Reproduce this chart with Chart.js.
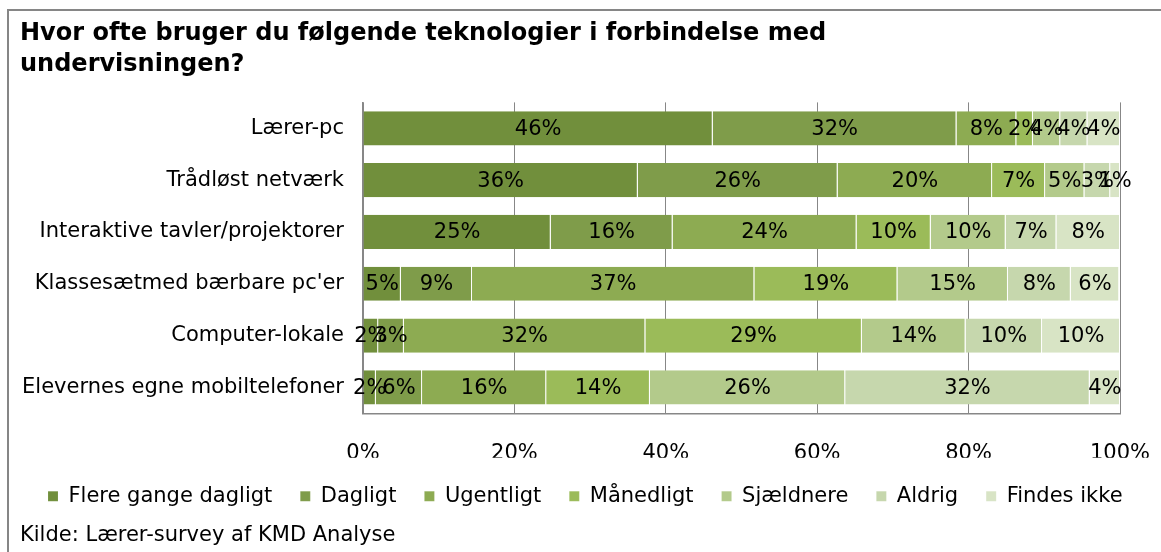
<!DOCTYPE html>
<html>
<head>
<meta charset="utf-8">
<script src="https://cdn.jsdelivr.net/npm/chart.js@4"></script>
<style>
  html, body { margin: 0; padding: 0; background: #fff; overflow: hidden; }
</style>
</head>
<body>
<canvas id="teknologi" width="1161" height="552"></canvas>
<script>
const categories = ['Lærer-pc', 'Trådløst netværk', 'Interaktive tavler/projektorer', "Klassesætmed bærbare pc'er", 'Computer-lokale', 'Elevernes egne mobiltelefoner'];
const seriesNames = ['Flere gange dagligt', 'Dagligt', 'Ugentligt', 'Månedligt', 'Sjældnere', 'Aldrig', 'Findes ikke'];

const flereGangeDagligt = [46.2, 36.3, 24.8, 5.0, 2.0, 1.7];
const dagligt = [32.2, 26.4, 16.1, 9.4, 3.4, 6.1];
const ugentligt = [7.9, 20.4, 24.3, 37.3, 31.9, 16.4];
const maanedligt = [2.2, 7.0, 9.8, 18.9, 28.6, 13.7];
const sjaeldnere = [3.6, 5.2, 9.9, 14.6, 13.7, 25.8];
const aldrig = [3.6, 3.4, 6.7, 8.3, 10.1, 32.3];
const findesIkke = [4.3, 1.3, 8.4, 6.4, 10.3, 4.0];

const xTicks = [0, 20, 40, 60, 80, 100];

const colors = ['#718f3c', '#7f9c4a', '#8dab52', '#9bbb59', '#b3ca8b', '#c6d7ad', '#d8e4c5'];
const FONT = 'DejaVu Sans';

const values = [flereGangeDagligt, dagligt, ugentligt, maanedligt, sjaeldnere, aldrig, findesIkke];

// grey frame round the whole chart
const framePlugin = {
    id: 'frame',
    beforeDraw(chart) {
        const c = chart.ctx;
        c.save();
        c.fillStyle = '#fff';
        c.fillRect(0, 0, chart.width, chart.height);
        c.strokeStyle = '#868686';
        c.lineWidth = 2;
        c.strokeRect(8, 10, chart.width + 50, chart.height + 50);
        c.restore();
    }
};

// percentage text in the middle of each segment
const barLabels = {
    id: 'barLabels',
    afterDatasetsDraw(chart) {
        const c = chart.ctx;
        c.save();
        c.font = '21px "' + FONT + '"';
        c.fillStyle = '#000';
        c.textAlign = 'center';
        c.textBaseline = 'middle';
        chart.data.datasets.forEach((ds, i) => {
            chart.getDatasetMeta(i).data.forEach((bar, j) => {
                const v = ds.data[j];
                c.fillText(Math.round(v) + '%', (bar.x + bar.base) / 2, bar.y + 1);
            });
        });
        c.restore();
    }
};

const ctx = document.getElementById('teknologi').getContext('2d');
const teknologi = new Chart(ctx, {
    type: 'bar',
    data: {
        labels: categories,
        datasets: seriesNames.map((name, i) => ({
            label: name,
            data: values[i],
            backgroundColor: colors[i],
            borderColor: 'rgba(255, 255, 255, 0.45)',
            borderWidth: { top: 0, bottom: 0, left: 0, right: 1 },
            borderSkipped: false,
            categoryPercentage: 1,
            barPercentage: 0.66
        }))
    },
    options: {
        indexAxis: 'y',
        responsive: false,
        animation: false,
        devicePixelRatio: 1,
        layout: {
            padding: { left: 20, right: 0, top: 0, bottom: 0 }
        },
        plugins: {
            title: {
                display: true,
                text: ['Hvor ofte bruger du følgende teknologier i forbindelse med', 'undervisningen?'],
                align: 'start',
                color: '#000',
                font: { family: FONT, size: 24, weight: 'bold', lineHeight: 1.3 },
                padding: { top: 18, bottom: 22 }
            },
            subtitle: {
                display: true,
                position: 'bottom',
                align: 'start',
                text: 'Kilde: Lærer-survey af KMD Analyse',
                color: '#000',
                font: { family: FONT, size: 21, lineHeight: 1.2 },
                padding: { top: 6, bottom: 4 }
            },
            legend: {
                position: 'bottom',
                align: 'start',
                labels: {
                    color: '#000',
                    font: { family: FONT, size: 21 },
                    boxWidth: 10,
                    boxHeight: 10,
                    padding: 28
                }
            },
            tooltip: { enabled: false }
        },
        scales: {
            x: {
                stacked: true,
                min: 0,
                max: 100,
                afterBuildTicks(scale) {
                    scale.ticks = xTicks.map(v => ({ value: v }));
                },
                afterFit(scale) {
                    scale.height = 44.5;
                    scale.paddingRight = 41;
                    scale.paddingLeft = 0;
                },
                grid: { color: '#878787', lineWidth: 1, drawTicks: false },
                border: { display: true, color: '#878787', width: 1.5 },
                ticks: {
                    color: '#000',
                    padding: 28,
                    maxRotation: 0,
                    font: { family: FONT, size: 21 },
                    callback: v => v + '%'
                }
            },
            y: {
                stacked: true,
                afterFit(scale) {
                    scale.width = 343;
                },
                grid: { display: false, drawTicks: false },
                border: { display: true, color: '#878787', width: 1.5 },
                ticks: {
                    color: '#000',
                    padding: 19,
                    font: { family: FONT, size: 21 }
                }
            }
        }
    },
    plugins: [framePlugin, barLabels]
});
</script>
</body>
</html>
